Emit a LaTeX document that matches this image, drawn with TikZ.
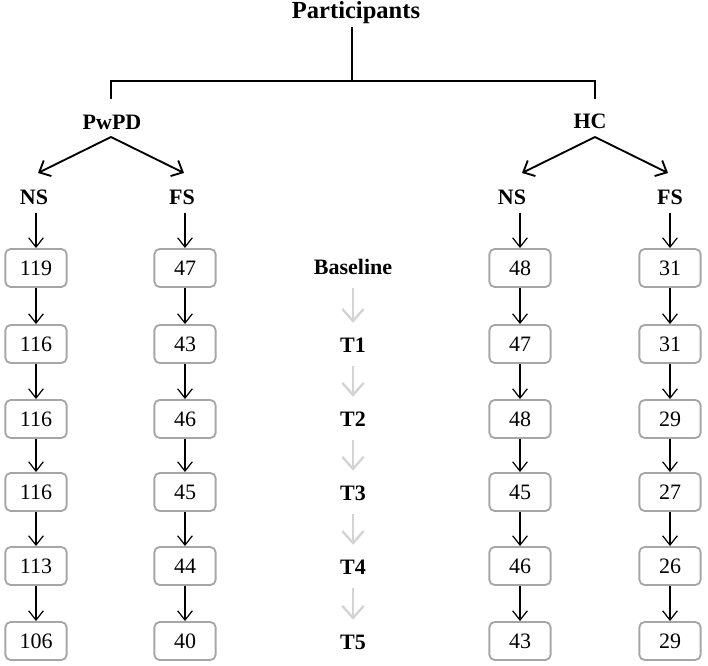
\documentclass[tikz,border=0pt]{standalone}
\usepackage{fontspec}
\setmainfont{Liberation Serif}
\usetikzlibrary{arrows.meta,calc,positioning}
\tikzset{pin/.style={-{Straight Barb[length=7pt,width=11pt]}, line width=0.9pt},
  fork/.style={-{Straight Barb[length=7pt,width=13pt]}, line width=1.4pt},
  greypin/.style={-{Straight Barb[length=9pt,width=16pt]}, draw=black!17, line width=1.8pt, shorten <=8pt, shorten >=9pt},
  count/.style={draw=black!35, line width=1.4pt, rounded corners=4pt, minimum width=46pt, minimum height=28.5pt, font=\fontsize{16.5}{18}\selectfont},
  lbl/.style={font=\fontsize{16.5}{18}\selectfont\bfseries, inner sep=2pt}}

\begin{document}
\begin{tikzpicture}[x=0.75pt, y=-0.75pt]
  \useasboundingbox (0,0) rectangle (708,666);
  \node[lbl, font=\fontsize{18.4}{20}\selectfont\bfseries] (part) at (356,13) {Participants};
  \node[lbl] (pwpd) at (112,122) {PwPD};
  \node[lbl] (hc) at (590,121) {HC};
  \node[lbl] (pns) at (34,197) {NS};
  \node[lbl] (pfs) at (182,197) {FS};
  \node[lbl] (hns) at (512,197) {NS};
  \node[lbl] (hfs) at (670,197) {FS};
  % tree at the top
  \coordinate (split) at (352,81);
  \draw[line width=1.1pt] (part.south -| split) -- (split);
  \draw[line width=1.1pt] ($(pwpd)+(-1,-23)$) |- (split) -| ($(hc)+(5,-22)$);
  \draw[fork] ($(pwpd)+(-1,15)$) -- ($(pns)+(4,-24)$);
  \draw[fork] ($(pwpd)+(-1,15)$) -- ($(pfs)+(2,-24)$);
  \draw[fork] ($(hc)+(5,16)$) -- ($(hns)+(10,-24)$);
  \draw[fork] ($(hc)+(5,16)$) -- ($(hfs)+(-2,-24)$);
  % counts per wave, and the time points in the middle
  \foreach \r/\y/\ty/\a/\b/\c/\d/\t in {1/268/267/119/47/48/31/Baseline,
      2/344/345/116/43/47/31/T1, 3/419/419/116/46/48/29/T2,
      4/492/493/116/45/45/27/T3, 5/566/567/113/44/46/26/T4,
      6/641/642/106/40/43/29/T5}{
    \node[count] (pns\r) at (36,\y) {\a};
    \node[count] (pfs\r) at (185,\y) {\b};
    \node[count] (hns\r) at (520,\y) {\c};
    \node[count] (hfs\r) at (670,\y) {\d};
    \node[lbl] (tp\r) at (353,\ty) {\t};
  }
  \foreach \n in {pns,pfs,hns,hfs}{\draw[pin, shorten <=4pt] (\n.south -| \n1) -- (\n1);}
  \foreach \r/\s in {1/2,2/3,3/4,4/5,5/6}{
    \foreach \n in {pns,pfs,hns,hfs}{\draw[pin] (\n\r) -- (\n\s);}
    \draw[greypin] (tp\r) -- (tp\s);
  }
\end{tikzpicture}
\end{document}
